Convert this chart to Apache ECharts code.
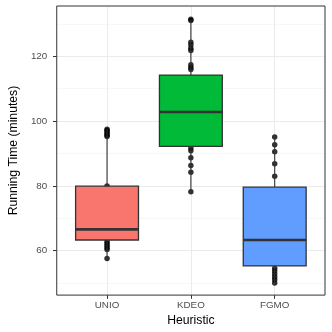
<!DOCTYPE html>
<html><head><meta charset="utf-8">
<script src="https://cdn.jsdelivr.net/npm/echarts@6/dist/echarts.min.js"></script>
<style>html,body{margin:0;padding:0;background:#fff}#c{width:332px;height:332px}</style>
</head><body><div id="c"></div>
<script>
const categories = ['UNIO', 'KDEO', 'FGMO'];
const boxColors = ['#F8766D', '#00BA38', '#619CFF'];
// [min, Q1, median, Q3, max]
const unioStats = [57.6, 63.3, 66.6, 79.9, 97.5];
const kdeoStats = [78.2, 92.2, 102.8, 114.2, 131.2];
const fgmoStats = [50.0, 55.3, 63.3, 79.6, 95.1];
const unioPoints = [97.5, 97.1, 96.6, 96.1, 95.6, 95.2, 80.0, 62.8, 62.2, 61.6, 61.0, 60.4, 57.6];
const kdeoPoints = [131.4, 131.0, 124.3, 123.5, 122.5, 121.8, 117.4, 116.6, 115.9, 91.7, 90.8, 88.7, 86.3, 84.2, 78.2];
const fgmoPoints = [95.1, 92.7, 90.5, 86.8, 83.0, 54.6, 53.7, 52.8, 51.9, 51.0, 50.0];
const yTicks = [60, 80, 100, 120];
const yMinor = [50, 70, 90, 110, 130];

const stats = [unioStats, kdeoStats, fgmoStats];
const pointsAll = [unioPoints, kdeoPoints, fgmoPoints];
const boxData = stats.map((s, i) => [i + 1].concat(s));
const scatterData = [];
pointsAll.forEach((arr, i) => arr.forEach(v => scatterData.push([i + 1, v])));

const chart = echarts.init(document.getElementById('c'), null, {renderer: 'canvas'});
const FONT = 'Liberation Sans';
chart.setOption({
  animation: false,
  backgroundColor: '#fff',
  grid: {left: 48.5, right: 7, top: 6, bottom: 36.3, show: true, borderColor: '#333333', borderWidth: 1, backgroundColor: 'transparent', z: 5},
  xAxis: {
    type: 'value', min: 0.4, max: 3.6,
    name: 'Heuristic', nameLocation: 'middle', nameGap: 19,
    nameTextStyle: {fontFamily: FONT, fontSize: 12.2, color: '#000', verticalAlign: 'top'},
    axisLine: {show: false},
    axisTick: {show: true, length: 3.7, customValues: [1, 2, 3], lineStyle: {color: '#333333', width: 1}},
    axisLabel: {customValues: [1, 2, 3], margin: 5, fontFamily: FONT, fontSize: 9.8, color: '#4D4D4D',
      formatter: v => categories[Math.round(v) - 1] || ''},
    splitLine: {show: true, lineStyle: {color: '#EBEBEB', width: 1}}
  },
  yAxis: {
    type: 'value', min: 46.3, max: 135.5,
    name: 'Running Time (minutes)', nameLocation: 'middle', nameGap: 30,
    nameTextStyle: {fontFamily: FONT, fontSize: 12.2, color: '#000'},
    axisLine: {show: false},
    axisTick: {show: true, length: 3.7, customValues: yTicks, lineStyle: {color: '#333333', width: 1}},
    axisLabel: {customValues: yTicks, margin: 9.5, fontFamily: FONT, fontSize: 9.8, color: '#4D4D4D'},
    splitLine: {show: true, lineStyle: {color: '#EBEBEB', width: 1}}
  },
  series: [
    {
      type: 'scatter', data: [], silent: true, z: 0,
      markLine: {silent: true, symbol: 'none', label: {show: false}, z: 0,
        lineStyle: {color: '#F2F2F2', width: 0.6, type: 'solid'},
        data: yMinor.map(v => ({yAxis: v}))}
    },
    {
      type: 'scatter', data: scatterData, symbol: 'circle', symbolSize: 5.5,
      itemStyle: {color: '#000'}, silent: true, z: 2
    },
    {
      type: 'custom', data: boxData, z: 3, silent: true,
      encode: {x: 0, y: [1, 2, 3, 4, 5]},
      renderItem: function (params, api) {
        const i = api.value(0);
        const mn = api.coord([i, api.value(1)]);
        const q1 = api.coord([i, api.value(2)]);
        const md = api.coord([i, api.value(3)]);
        const q3 = api.coord([i, api.value(4)]);
        const mx = api.coord([i, api.value(5)]);
        const w = api.size([0.75, 0])[0];
        const x0 = mn[0] - w / 2;
        const col = boxColors[params.dataIndex];
        const lw = 1.3;
        return {type: 'group', children: [
          {type: 'line', shape: {x1: mn[0], y1: q3[1], x2: mx[0], y2: mx[1]}, style: {stroke: '#333333', lineWidth: 1.1}},
          {type: 'line', shape: {x1: mn[0], y1: q1[1], x2: mn[0], y2: mn[1]}, style: {stroke: '#333333', lineWidth: 1.1}},
          {type: 'rect', shape: {x: x0, y: q3[1], width: w, height: q1[1] - q3[1]}, style: {fill: col, stroke: '#333333', lineWidth: lw}},
          {type: 'line', shape: {x1: x0, y1: md[1], x2: x0 + w, y2: md[1]}, style: {stroke: '#333333', lineWidth: 2.7}}
        ]};
      }
    }
  ]
});
</script></body></html>
